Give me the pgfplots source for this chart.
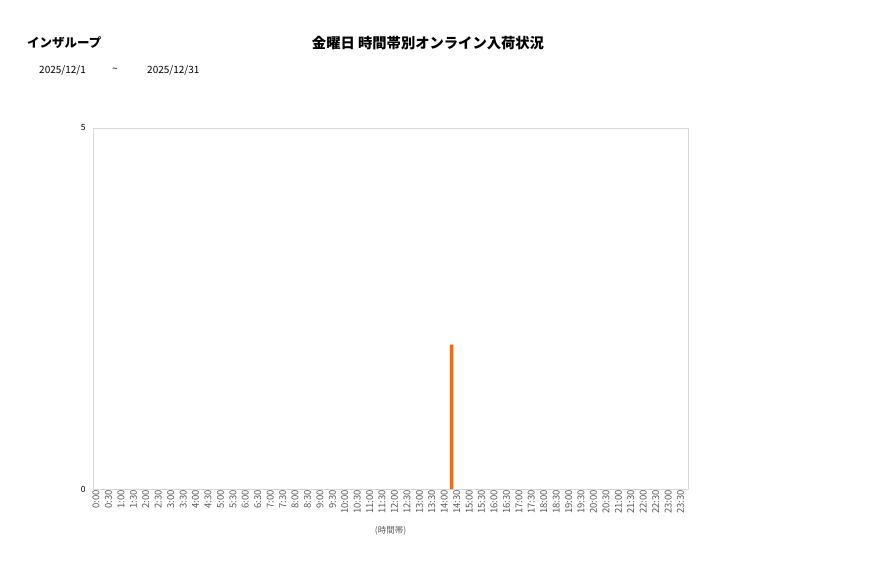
\documentclass[border=0pt]{standalone}
\usepackage{fontspec}
\setmainfont{Noto Sans CJK JP}
\usepackage{pgfplots}
\pgfplotsset{compat=1.18}
\definecolor{barorange}{RGB}{240,108,28}
\definecolor{framegray}{RGB}{217,217,217}
\definecolor{textgray}{RGB}{89,89,89}
\pgfplotstableread{
x y
0 0
1 0
2 0
3 0
4 0
5 0
6 0
7 0
8 0
9 0
10 0
11 0
12 0
13 0
14 0
15 0
16 0
17 0
18 0
19 0
20 0
21 0
22 0
23 0
24 0
25 0
26 0
27 0
28 0
29 2
30 0
31 0
32 0
33 0
34 0
35 0
36 0
37 0
38 0
39 0
40 0
41 0
42 0
43 0
44 0
45 0
46 0
47 0
}\datatable
\begin{document}
\begin{tikzpicture}[x=1pt,y=1pt]
\path[use as bounding box] (0,0) rectangle (877,578);
\node[font=\bfseries\fontsize{12.5}{12.5}\selectfont, anchor=west, inner sep=0] at (27,535) {インザループ};
\node[font=\bfseries\fontsize{14.3}{14.3}\selectfont, inner sep=0] at (428,535) {金曜日 時間帯別オンライン入荷状況};
\node[font=\fontsize{10}{10}\selectfont, anchor=west, inner sep=0] at (39,508) {2025/12/1};
\node[font=\fontsize{10}{10}\selectfont, inner sep=0] at (115,508) {\textasciitilde};
\node[font=\fontsize{10}{10}\selectfont, anchor=west, inner sep=0] at (147,508) {2025/12/31};
\begin{axis}[
  at={(93pt,89pt)}, anchor=south west,
  scale only axis, width=595pt, height=361pt,
  xmin=-0.25, xmax=47.6,
  ymin=0, ymax=5,
  ytick={0,5},
  xtick={0,...,47},
  xticklabels={0:00,0:30,1:00,1:30,2:00,2:30,3:00,3:30,4:00,4:30,5:00,5:30,6:00,6:30,7:00,7:30,8:00,8:30,9:00,9:30,10:00,10:30,11:00,11:30,12:00,12:30,13:00,13:30,14:00,14:30,15:00,15:30,16:00,16:30,17:00,17:30,18:00,18:30,19:00,19:30,20:00,20:30,21:00,21:30,22:00,22:30,23:00,23:30},
  x tick label style={rotate=90, anchor=east, font=\fontsize{9.5}{9.5}\selectfont, text=textgray, inner sep=1pt},
  y tick label style={font=\fontsize{8.5}{8.5}\selectfont, text=black, xshift=-4pt},
  /pgf/number format/assume math mode=true,
  major tick length=0pt,
  axis line style={framegray},
  xlabel={(時間帯)},
  xlabel style={font=\fontsize{8.5}{8.5}\selectfont, text=textgray, at={(axis description cs:0.5,0)}, anchor=north, yshift=-34pt},
  ylabel={},
  ybar, bar width=3.5pt, bar shift=-5pt,
]
\addplot[fill=barorange, draw=none] table[x=x,y=y] {\datatable};
\end{axis}
\end{tikzpicture}
\end{document}
